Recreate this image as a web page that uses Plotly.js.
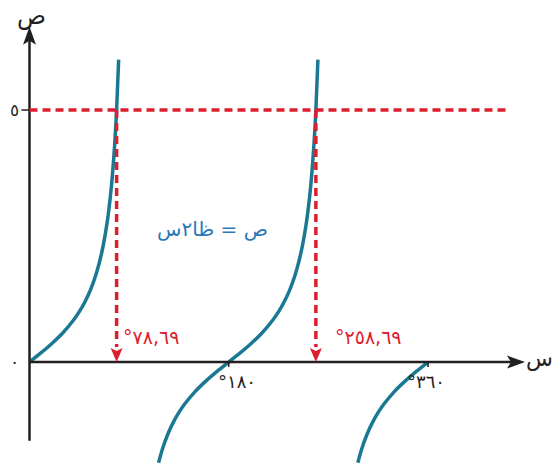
<!DOCTYPE html>
<html>
<head>
<meta charset="utf-8">
<script src="https://cdn.plot.ly/plotly-3.0.1.min.js"></script>
<style>
  html, body { margin: 0; padding: 0; background: #fff; }
  #chart { width: 555px; height: 466px; }
</style>
</head>
<body>
<div id="chart"></div>
<script>
// y = tan x, tabulated per branch (x in degrees)
const branch1X = [0, 10, 20, 30, 40, 45, 50, 55, 60, 65, 70, 73, 75, 77, 78.69, 80.54];
const branch1Y = [0, 0.176, 0.364, 0.577, 0.839, 1, 1.192, 1.428, 1.732, 2.145, 2.747, 3.271, 3.732, 4.331, 5, 6];
const branch2X = [116.57, 120, 125, 130, 135, 140, 150, 160, 170, 180, 190, 200, 210, 220, 225, 230, 235, 240, 245, 250, 253, 255, 257, 258.69, 260.54];
const branch2Y = [-2, -1.732, -1.428, -1.192, -1, -0.839, -0.577, -0.364, -0.176, 0, 0.176, 0.364, 0.577, 0.839, 1, 1.192, 1.428, 1.732, 2.145, 2.747, 3.271, 3.732, 4.331, 5, 6];
const branch3X = [296.57, 300, 305, 310, 315, 320, 330, 340, 350, 360];
const branch3Y = [-2, -1.732, -1.428, -1.192, -1, -0.839, -0.577, -0.364, -0.176, 0];

// horizontal level and the angles where the curve meets it
const targetValue = 5;
const solutions = [78.69, 258.69];

// axis ticks
const xTickValues = [180, 360];
const yTickValues = [0, 5];

const equationLabel = 'ص = ظا٢س';
const xAxisLabel = 'س';
const yAxisLabel = 'ص';

const INK = '#231f20';
const CURVE = '#1a7893';
const RED = '#dc1e2d';
const BLUE = '#2a78b8';
const FONT = 'DejaVu Sans, sans-serif';

const xEnd = 447.6;   // x-axis arrow tip (degrees)
const yTop = 6.65;    // y-axis arrow tip
const yBottom = -1.56;
const dashEnd = 433;

function arabicDigits(v) {
  return String(v).replace(/[0-9]/g, d => '٠١٢٣٤٥٦٧٨٩'[d]).replace('.', ',');
}

const curveStyle = { color: CURVE, width: 3.5, shape: 'spline', smoothing: 0.6 };
const traces = [
  { x: branch1X, y: branch1Y },
  { x: branch2X, y: branch2Y },
  { x: branch3X, y: branch3Y }
].map(b => ({ ...b, type: 'scatter', mode: 'lines', line: curveStyle, hoverinfo: 'skip' }));

const shapes = [
  // axes
  { type: 'line', xref: 'x', yref: 'y', x0: 0, x1: xEnd - 12, y0: 0, y1: 0, line: { color: INK, width: 2.5 } },
  { type: 'line', xref: 'x', yref: 'y', x0: 0, x1: 0, y0: yBottom, y1: yTop - 0.25, line: { color: INK, width: 2.5 } },
  { type: 'path', xref: 'x', yref: 'y', xsizemode: 'pixel', ysizemode: 'pixel', xanchor: xEnd, yanchor: 0,
    path: 'M0,0 L-18,6.5 L-14,0 L-18,-6.5 Z', fillcolor: INK, line: { width: 0 } },
  { type: 'path', xref: 'x', yref: 'y', xsizemode: 'pixel', ysizemode: 'pixel', xanchor: 0, yanchor: yTop,
    path: 'M0,0 L-6.5,-18 L0,-14 L6.5,-18 Z', fillcolor: INK, line: { width: 0 } },
  // level line
  { type: 'line', xref: 'x', yref: 'y', x0: 0, x1: dashEnd, y0: targetValue, y1: targetValue,
    line: { color: RED, width: 3.3, dash: '8px,5px' } }
];

// y tick at 5 (short stub left of the axis)
shapes.push({ type: 'line', xref: 'x', yref: 'y', xsizemode: 'pixel', xanchor: 0, x0: -8, x1: 0,
  y0: targetValue, y1: targetValue, line: { color: INK, width: 1.5 } });

// x ticks below the axis
xTickValues.forEach(v => {
  shapes.push({ type: 'line', xref: 'x', yref: 'y', ysizemode: 'pixel', yanchor: 0, y0: 0, y1: -5,
    x0: v, x1: v, line: { color: INK, width: 1.5 } });
});

// dashed drop lines with arrowheads at each solution
solutions.forEach(s => {
  shapes.push({ type: 'line', xref: 'x', yref: 'y', x0: s, x1: s, y0: targetValue, y1: 0.3,
    line: { color: RED, width: 3.5, dash: '8px,5px' } });
  shapes.push({ type: 'path', xref: 'x', yref: 'y', xsizemode: 'pixel', ysizemode: 'pixel', xanchor: s, yanchor: 0,
    path: 'M0,0 L-6,14 L0,11 L6,14 Z', fillcolor: RED, line: { width: 0 } });
});

const annotations = [];
const solShift = [4, 17];
solutions.forEach((s, i) => {
  annotations.push({ x: s, y: 0, xref: 'x', yref: 'y', xanchor: 'left', yanchor: 'middle',
    xshift: solShift[i], yshift: 25, showarrow: false,
    text: '°' + arabicDigits(s), font: { family: FONT, size: 19, color: RED } });
});
const tickShift = [8, -2];
xTickValues.forEach((v, i) => {
  annotations.push({ x: v, y: 0, xref: 'x', yref: 'y', xanchor: 'center', yanchor: 'middle',
    xshift: tickShift[i], yshift: -19, showarrow: false,
    text: '°' + arabicDigits(v), font: { family: FONT, size: 18, color: INK } });
});
yTickValues.forEach(v => {
  annotations.push({ x: 0, y: v, xref: 'x', yref: 'y', xanchor: 'center', yanchor: 'middle',
    xshift: -15, yshift: 0, showarrow: false,
    text: arabicDigits(v), font: { family: FONT, size: 17, color: INK } });
});
annotations.push({ x: 165, y: 2.6, xref: 'x', yref: 'y', xanchor: 'center', yanchor: 'middle',
  yshift: 2, showarrow: false,
  text: equationLabel, font: { family: FONT, size: 20, color: BLUE } });
annotations.push({ x: 0, y: yTop, xref: 'x', yref: 'y', xanchor: 'center', yanchor: 'middle',
  xshift: 2, yshift: 11, showarrow: false, text: yAxisLabel, font: { family: FONT, size: 24, color: INK } });
annotations.push({ x: xEnd, y: 0, xref: 'x', yref: 'y', xanchor: 'center', yanchor: 'middle',
  xshift: 14, yshift: 3, showarrow: false, text: xAxisLabel, font: { family: FONT, size: 22, color: INK } });

const layout = {
  width: 555, height: 466,
  margin: { l: 0, r: 0, t: 0, b: 0 },
  paper_bgcolor: '#fff', plot_bgcolor: '#fff',
  showlegend: false,
  xaxis: { range: [-26.65, 474.7], visible: false, fixedrange: true },
  yaxis: { range: [-2.063, 7.183], visible: false, fixedrange: true },
  shapes, annotations
};

Plotly.newPlot('chart', traces, layout, { displayModeBar: false, staticPlot: true });
</script>
</body>
</html>
